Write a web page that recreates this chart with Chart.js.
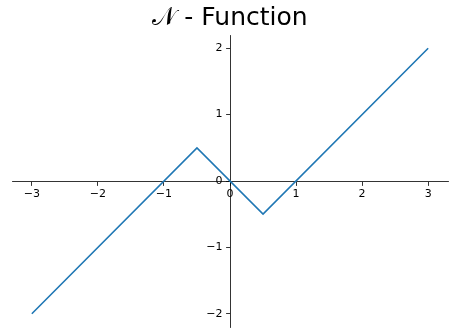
<!DOCTYPE html>
<html>
<head>
<meta charset="utf-8">
<script src="https://cdn.jsdelivr.net/npm/chart.js@4"></script>
<style>
    html, body { margin: 0; padding: 0; background: #fff; }
</style>
</head>
<body>
<canvas id="nChart" width="451" height="331"></canvas>
<script>
// piecewise linear N function, corner points
const xValues = [-3, -0.5, 0.5, 3]
const yValues = [-2, 0.5, -0.5, 2]
const xTicks = [-3, -2, -1, 0, 1, 2, 3]
const yTicks = [-2, -1, 0, 1, 2]

const points = xValues.map((x, i) => ({ x: x, y: yValues[i] }))

// matplotlib uses a real minus sign
const fmt = (v) => String(v).replace('-', '\u2212')
const tickFont = { family: 'DejaVu Sans', size: 11 }

const axisStyle = {
    type: 'linear',
    grid: { display: true, drawOnChartArea: false, drawTicks: true, tickLength: 4, color: '#000', lineWidth: 0.8 },
    border: { display: true, color: '#000', width: 0.8 },
    ticks: { color: '#000', font: tickFont, padding: 3, callback: fmt }
}

// Chart.js puts labels of a centred y axis right on the line, so draw them left of the tick marks
const yLabelPlugin = {
    id: 'yLabels',
    afterDraw(chart) {
        const ctx = chart.ctx
        const xs = chart.scales.x, ys = chart.scales.y
        const axisX = xs.getPixelForValue(0)
        ctx.save()
        ctx.fillStyle = '#000'
        ctx.font = '11px "DejaVu Sans"'
        ctx.textAlign = 'right'
        ctx.textBaseline = 'middle'
        yTicks.forEach(v => {
            ctx.fillText(fmt(v), axisX - 4 - 3.5, ys.getPixelForValue(v))
        })
        ctx.restore()
    }
}

Chart.defaults.font.family = 'DejaVu Sans'

new Chart(document.getElementById('nChart').getContext('2d'), {
    type: 'scatter',
    data: {
        datasets: [{
            data: points,
            showLine: true,
            borderColor: '#1f77b4',
            borderWidth: 1.6,
            pointRadius: 0,
            tension: 0
        }]
    },
    options: {
        responsive: false,
        animation: false,
        layout: { padding: { left: 12, right: 3, top: 0, bottom: 4 } },
        plugins: {
            legend: { display: false },
            tooltip: { enabled: false },
            title: {
                display: true,
                text: '\uD835\uDCA9 - Function',
                color: '#000',
                font: { family: 'DejaVu Sans', size: 25, weight: 'normal', lineHeight: 1.2 },
                padding: { top: 3, bottom: 2 }
            }
        },
        scales: {
            x: Object.assign({}, axisStyle, {
                min: -3.3, max: 3.3,
                position: { y: 0 },
                afterBuildTicks: (scale) => { scale.ticks = xTicks.map(v => ({ value: v })) }
            }),
            y: Object.assign({}, axisStyle, {
                min: -2.2, max: 2.2,
                position: { x: 0 },
                ticks: Object.assign({}, axisStyle.ticks, { display: false }),
                afterBuildTicks: (scale) => { scale.ticks = yTicks.map(v => ({ value: v })) }
            })
        }
    },
    plugins: [yLabelPlugin]
})
</script>
</body>
</html>
